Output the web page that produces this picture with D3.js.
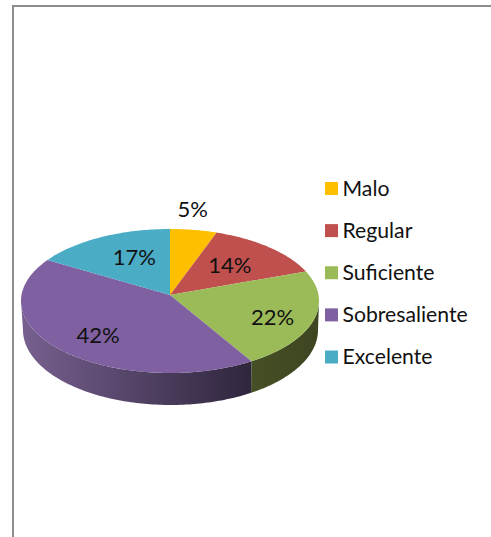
<!DOCTYPE html>
<html>
<head>
<meta charset="utf-8">
<script src="https://d3js.org/d3.v7.min.js"></script>
<style>
  html, body { margin: 0; padding: 0; background: #fff; }
  svg { display: block; }
  text { font-family: Lato, "Noto Sans", sans-serif; fill: #111; }
</style>
</head>
<body>
<script>
  var categories = ["Malo", "Regular", "Suficiente", "Sobresaliente", "Excelente"];
  var shares = [5.5, 14, 22, 42, 16.5];
  var shareLabels = ["5%", "14%", "22%", "42%", "17%"];
  var colors = ["#fdbf00", "#c0504d", "#9bbb59", "#7f60a0", "#4bacc6"];
  var sideColors = [null, null, ["#465026", "#3c4520"], ["#77608f", "#2f263d"], null];
  // nudges from the default label spot (excel moved them by hand)
  var labelNudge = [[7, -42], [-6, 2], [10, 6], [-1, 6], [10, 1]];

  var width = 491, height = 537;
  var svg = d3.select("body").append("svg")
    .attr("width", width)
    .attr("height", height);

  // chart frame, only top and left show
  svg.append("path")
    .attr("d", "M13,537V6H491")
    .attr("fill", "none")
    .attr("stroke", "#8c8c8c")
    .attr("stroke-width", 2);

  // top ellipse and bottom ellipse of the disc
  var topX = d3.scaleLinear().domain([-1, 1]).range([21, 319]);
  var topY = d3.scaleLinear().domain([-1, 1]).range([229, 373]);
  var botX = d3.scaleLinear().domain([-1, 1]).range([23, 318]);
  var botY = d3.scaleLinear().domain([-1, 1]).range([255, 405]);

  // tilt moves the pie's centre up inside the ellipse (perspective)
  var k = -0.083;
  function project(theta, r) {
    var u = r * Math.sin(theta), v = -r * Math.cos(theta);
    var d = 1 + k * v;
    return [u * Math.sqrt(1 - k * k) / d, (v + k) / d];
  }

  var pie = d3.pie().sort(null).value(function (d) { return d; });
  var arcs = pie(shares);
  var line = d3.line();
  var step = Math.PI / 180;

  function sweep(a, b) {
    var n = Math.max(1, Math.ceil((b - a) / step));
    return d3.range(n + 1).map(function (i) { return a + (b - a) * i / n; });
  }

  var defs = svg.append("defs");
  var visA = Math.acos(k), visB = 2 * Math.PI - visA;

  // side wall
  arcs.forEach(function (a, i) {
    var s = Math.max(a.startAngle, visA), e = Math.min(a.endAngle, visB);
    if (s >= e || !sideColors[i]) return;
    var pts = sweep(s, e);
    var upper = pts.map(function (t) { var p = project(t, 1); return [topX(p[0]), topY(p[1])]; });
    var lower = pts.slice().reverse().map(function (t) { var p = project(t, 1); return [botX(p[0]), botY(p[1])]; });
    var xs = upper.map(function (p) { return p[0]; });
    var g = defs.append("linearGradient")
      .attr("id", "side" + i)
      .attr("gradientUnits", "userSpaceOnUse")
      .attr("x1", d3.min(xs)).attr("x2", d3.max(xs))
      .attr("y1", 0).attr("y2", 0);
    g.append("stop").attr("offset", 0).attr("stop-color", sideColors[i][0]);
    g.append("stop").attr("offset", 1).attr("stop-color", sideColors[i][1]);
    svg.append("path")
      .attr("d", line(upper.concat(lower)) + "Z")
      .attr("fill", "url(#side" + i + ")");
  });

  // top face
  var centre = project(0, 0);
  svg.selectAll("path.slice")
    .data(arcs)
    .enter().append("path")
    .attr("class", "slice")
    .attr("fill", function (d, i) { return colors[i]; })
    .attr("d", function (d) {
      var pts = sweep(d.startAngle, d.endAngle).map(function (t) {
        var p = project(t, 1);
        return [topX(p[0]), topY(p[1])];
      });
      return line([[topX(centre[0]), topY(centre[1])]].concat(pts)) + "Z";
    });

  // data labels
  svg.selectAll("text.share")
    .data(arcs)
    .enter().append("text")
    .attr("class", "share")
    .attr("text-anchor", "middle")
    .attr("font-size", 22)
    .attr("x", function (d, i) {
      var p = project((d.startAngle + d.endAngle) / 2, 0.65);
      return topX(p[0]) + labelNudge[i][0];
    })
    .attr("y", function (d, i) {
      var p = project((d.startAngle + d.endAngle) / 2, 0.65);
      return topY(p[1]) + labelNudge[i][1] + 7.5;
    })
    .text(function (d, i) { return shareLabels[i]; });

  // legend
  var legendY = d3.scalePoint().domain(categories).range([188.5, 357]);
  var legend = svg.selectAll("g.legend")
    .data(categories)
    .enter().append("g")
    .attr("class", "legend")
    .attr("transform", function (d) { return "translate(325," + legendY(d) + ")"; });
  legend.append("rect")
    .attr("y", -6.5)
    .attr("width", 13)
    .attr("height", 13)
    .attr("fill", function (d, i) { return colors[i]; });
  legend.append("text")
    .attr("x", 17.5)
    .attr("y", 7)
    .attr("font-size", 21.2)
    .text(function (d) { return d; });
</script>
</body>
</html>
